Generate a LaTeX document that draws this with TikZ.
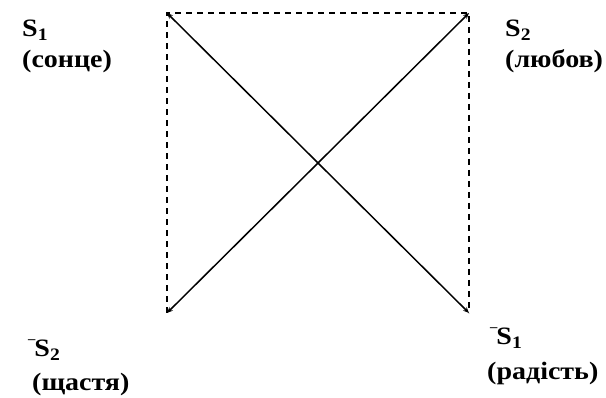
\documentclass[tikz,border=0pt]{standalone}
\usepackage{fontspec}
\setmainfont[FakeStretch=1.12]{Liberation Serif}
\usetikzlibrary{positioning, arrows.meta}

\newcommand{\negbar}{{\fontsize{13}{13}\selectfont\raisebox{0.6em}{¯}}\kern-1pt}

\begin{document}
\begin{tikzpicture}[x=1pt, y=-1pt, >={Stealth[length=6pt, width=5pt]},
  lbl/.style={font=\bfseries\fontsize{25}{29}\selectfont, inner sep=0pt, anchor=base west},
  side/.style={dash pattern=on 6pt off 5pt, line width=1.4pt},
  diag/.style={<->, line width=1.5pt}]
  \useasboundingbox (0,0) rectangle (606,398);
  % corners of the square
  \coordinate (S1) at (167,13);
  \coordinate (S2) at (469,13);
  \coordinate (nS2) at (167,313);
  \coordinate (nS1) at (469,313);
  \draw[side] (nS2) -- (S1) -- (S2) -- (nS1);
  \draw[diag] (S1) -- (nS1);
  \draw[diag] (S2) -- (nS2);
  % labels
  \node[lbl] (l1) at (22,37) {S\textsubscript{1}};
  \node[lbl] (w1) at (22,68) {(сонце)};
  \node[lbl] (l2) at (505,37) {S\textsubscript{2}};
  \node[lbl] (w2) at (505,68) {(любов)};
  \node[lbl] (l3) at (28,357) {\negbar S\textsubscript{2}};
  \node[lbl] (w3) at (32,391) {(щастя)};
  \node[lbl] (l4) at (490,345) {\negbar S\textsubscript{1}};
  \node[lbl] (w4) at (487,380) {(радість)};
\end{tikzpicture}
\end{document}
